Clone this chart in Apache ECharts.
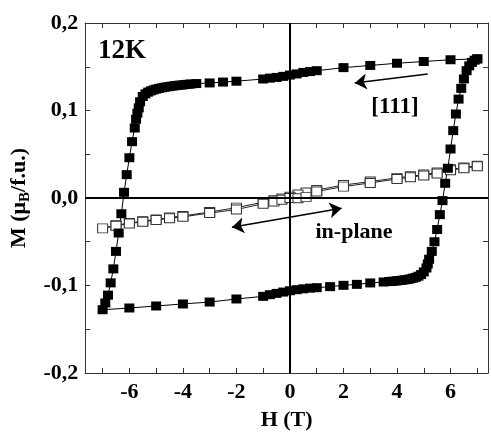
<!DOCTYPE html>
<html>
<head>
<meta charset="utf-8">
<script src="https://cdn.jsdelivr.net/npm/echarts@6/dist/echarts.min.js"></script>
<style>
  html, body { margin: 0; padding: 0; background: #fff; }
  #chart { width: 491px; height: 436px; }
</style>
</head>
<body>
<div id="chart"></div>
<script>
// [111] loop, field swept 7 -> -7 (upper branch) then -7 -> 7 (lower branch)
const hDown111 = [7, 6, 5, 4, 3, 2, 1, 0.75, 0.5, 0.25, 0, -0.25, -0.5, -0.75, -1, -2, -2.5, -3, -3.5,
  -3.7, -3.8, -3.9, -4, -4.1, -4.2, -4.3, -4.4, -4.5, -4.6, -4.7, -4.8, -4.9, -5, -5.1, -5.2, -5.3,
  -5.4, -5.5, -5.6, -5.65, -5.7, -5.75, -5.8, -5.9, -6, -6.1, -6.2, -6.3, -6.4, -6.5, -6.6, -6.7,
  -6.8, -6.9, -7]
const mDown111 = [0.159, 0.158, 0.156, 0.154, 0.1515, 0.149, 0.1455, 0.1445, 0.1435, 0.1418, 0.1405,
  0.139, 0.1378, 0.137, 0.136, 0.1335, 0.1325, 0.1315, 0.1308,
  0.1303, 0.13, 0.1297, 0.1293, 0.129, 0.1287, 0.1283, 0.1279, 0.1275, 0.127, 0.1265, 0.1259,
  0.1252, 0.1244, 0.1235, 0.1224, 0.121, 0.119, 0.116, 0.11, 0.103, 0.097, 0.09, 0.08, 0.0644,
  0.046, 0.0267, 0.0065, -0.018, -0.04, -0.061, -0.081, -0.097, -0.111, -0.12, -0.1277]
const hUp111 = [-6, -5, -4, -3, -2, -1, -0.75, -0.5, -0.25, 0, 0.25, 0.5, 0.75, 1, 1.5, 2, 2.5, 3, 3.5,
  3.7, 3.8, 3.9, 4, 4.1, 4.2, 4.3, 4.4, 4.5, 4.6, 4.7, 4.8, 4.9, 5, 5.1, 5.15, 5.2, 5.3, 5.4, 5.5,
  5.6, 5.7, 5.8, 5.9, 6, 6.1, 6.2, 6.3, 6.4, 6.5, 6.6, 6.7, 6.8, 6.9, 7]
const mUp111 = [-0.1257, -0.1234, -0.1211, -0.1189, -0.1154, -0.1124, -0.1105, -0.109, -0.1075, -0.106,
  -0.1048, -0.1038, -0.103, -0.1025, -0.1013, -0.0998, -0.0987, -0.0971, -0.096,
  -0.0955, -0.0952, -0.095, -0.0947, -0.0943, -0.0939, -0.0935, -0.093, -0.0924, -0.0916, -0.0907,
  -0.0894, -0.0875, -0.0845, -0.08, -0.0754, -0.07, -0.061, -0.05, -0.036, -0.019, -0.003, 0.0168,
  0.034, 0.056, 0.077, 0.096, 0.113, 0.1253, 0.136, 0.1455, 0.151, 0.155, 0.1575, 0.159]

// in-plane loop
const hDownIP = [7, 6.5, 6, 5.5, 5, 4.5, 4, 3, 2, 1, 0.6, 0.3, 0, -0.3, -0.6, -1, -2, -3, -4, -4.5, -5,
  -5.5, -6, -6.5, -7]
const mDownIP = [0.0368, 0.0348, 0.0328, 0.0292, 0.0268, 0.0248, 0.023, 0.0188, 0.0148, 0.0092, 0.0062,
  0.004, 0.0015, -0.0005, -0.0025, -0.0048, -0.011, -0.016, -0.0205, -0.0222, -0.0245, -0.0265,
  -0.0285, -0.0312, -0.0347]
const hUpIP = [-6.5, -6, -5.5, -5, -4.5, -4, -3, -2, -1, -0.6, -0.3, 0, 0.3, 0.6, 1, 2, 3, 4, 4.5, 5, 5.5,
  6, 6.5, 7]
const mUpIP = [-0.0318, -0.0292, -0.0272, -0.0252, -0.0232, -0.0215, -0.0172, -0.0132, -0.0065, -0.004,
  -0.002, 0, -0.0002, 0.001, 0.0075, 0.013, 0.0172, 0.0218, 0.0238, 0.0258, 0.028, 0.0318, 0.034,
  0.0362]

const xTicks = [-7, -6, -5, -4, -3, -2, -1, 0, 1, 2, 3, 4, 5, 6, 7]
const xLabels = [-6, -4, -2, 0, 2, 4, 6]

const FONT = 'Liberation Serif'

function zip(hs, ms) {
  return hs.map((h, i) => [h, ms[i]])
}

const loop111 = zip(hDown111, mDown111).concat(zip(hUp111, mUp111))
const loopIP = zip(hDownIP, mDownIP).concat(zip(hUpIP, mUpIP))

const chart = echarts.init(document.getElementById('chart'))

const labelStyle = { fontFamily: FONT, fontWeight: 'bold', fontSize: 22, color: '#000' }
const frameLine = { show: true, onZero: false, lineStyle: { color: '#333', width: 1 } }

function yLabel(v) {
  let k = Math.round(v * 20)
  if (k % 2 !== 0) return ''
  return (k / 20).toFixed(1).replace('.', ',')
}

chart.setOption({
  animation: false,
  backgroundColor: '#fff',
  grid: { left: 85, right: 3, top: 23, bottom: 63 },
  xAxis: [
    {
      type: 'value', min: -7.65, max: 7.4, position: 'bottom',
      axisLine: frameLine,
      axisTick: { inside: true, length: 5, customValues: xTicks, lineStyle: { color: '#333' } },
      axisLabel: Object.assign({ customValues: xLabels, margin: 8 }, labelStyle),
      splitLine: { show: false },
      name: 'H (T)', nameLocation: 'middle', nameGap: 36,
      nameTextStyle: labelStyle
    },
    {
      type: 'value', min: -7.65, max: 7.4, position: 'top',
      axisLine: frameLine,
      axisTick: { inside: true, length: 5, customValues: xTicks, lineStyle: { color: '#333' } },
      axisLabel: { show: false },
      splitLine: { show: false }
    }
  ],
  yAxis: [
    {
      type: 'value', min: -0.2, max: 0.2, interval: 0.05, position: 'left',
      axisLine: frameLine,
      axisTick: { inside: true, length: 5, lineStyle: { color: '#333' } },
      axisLabel: Object.assign({ formatter: yLabel, margin: 7 }, labelStyle),
      splitLine: { show: false },
      name: '{a|M (μ}{b|B}{a|/f.u.)}', nameLocation: 'middle', nameRotate: 90, nameGap: 52,
      nameTextStyle: {
        rich: {
          a: { fontFamily: FONT, fontWeight: 'bold', fontSize: 22, color: '#000' },
          b: { fontFamily: FONT, fontWeight: 'bold', fontSize: 15, color: '#000', padding: [12, 0, 0, 0] }
        }
      }
    },
    {
      type: 'value', min: -0.2, max: 0.2, interval: 0.05, position: 'right',
      axisLine: frameLine,
      axisTick: { inside: true, length: 5, lineStyle: { color: '#333' } },
      axisLabel: { show: false },
      splitLine: { show: false }
    }
  ],
  series: [
    {
      name: 'in-plane',
      type: 'line',
      data: loopIP,
      symbol: 'rect',
      symbolSize: [10, 9],
      lineStyle: { color: '#222', width: 1 },
      itemStyle: { color: '#fff', borderColor: '#333', borderWidth: 1 },
      markLine: {
        silent: true,
        symbol: ['none', 'none'],
        label: { show: false },
        lineStyle: { color: '#000', width: 2, type: 'solid' },
        data: [
          { xAxis: 0 },
          { yAxis: 0 },
          [
            { coord: [-2.17, -0.0335], symbol: 'arrow', symbolSize: 12, lineStyle: { width: 1.5 } },
            { coord: [1.93, -0.0118], symbol: 'arrow', symbolSize: 12 }
          ]
        ]
      }
    },
    {
      name: '[111]',
      type: 'line',
      data: loop111,
      symbol: 'rect',
      symbolSize: [10, 9],
      lineStyle: { color: '#000', width: 1 },
      itemStyle: { color: '#000' },
      markLine: {
        silent: true,
        symbol: ['none', 'arrow'],
        symbolSize: 12,
        label: { show: false },
        lineStyle: { color: '#000', width: 1.5, type: 'solid' },
        data: [
          [{ coord: [5.15, 0.1417] }, { coord: [2.42, 0.1314] }]
        ]
      }
    }
  ],
  graphic: [
    { type: 'text', left: 98, top: 38, style: { text: '12K', font: 'bold 27px "Liberation Serif"', fill: '#000' } },
    { type: 'text', x: 395, y: 107, style: { text: '[111]', font: 'bold 23px "Liberation Serif"', fill: '#000', align: 'center', verticalAlign: 'middle' } },
    { type: 'text', x: 354, y: 232, style: { text: 'in-plane', font: 'bold 22px "Liberation Serif"', fill: '#000', align: 'center', verticalAlign: 'middle' } }
  ]
})
</script>
</body>
</html>
